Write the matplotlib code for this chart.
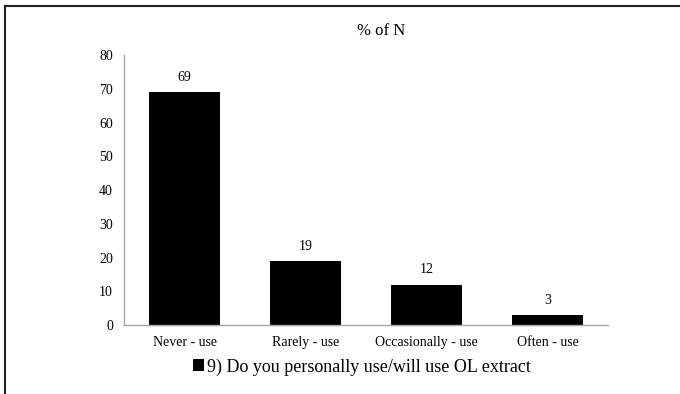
import matplotlib
matplotlib.use("Agg")
import matplotlib.pyplot as plt
from matplotlib.lines import Line2D

categories = ["Never - use", "Rarely - use", "Occasionally - use", "Often - use"]
values = [69, 19, 12, 3]
series_name = "9) Do you personally use/will use OL extract"
y_ticks = [0, 10, 20, 30, 40, 50, 60, 70, 80]

plt.rcParams["font.family"] = ["Liberation Serif", "DejaVu Serif"]

fig = plt.figure(figsize=(6.8, 3.94), dpi=100)
ax = fig.add_axes([0.1824, 0.1751, 0.894 - 0.1824, 0.8604 - 0.1751])

x = list(range(len(categories)))
bars = ax.bar(x, values, width=0.58, color="black", label=series_name)

for xi, v in zip(x, values):
    ax.annotate(str(v), (xi, v), xytext=(0, 6), textcoords="offset points",
                ha="center", va="bottom", fontsize=10)

ax.set_xlim(-0.5, len(categories) - 0.5)
ax.set_ylim(0, 80)
ax.set_yticks(y_ticks)
ax.set_xticks(x)
ax.set_xticklabels(categories, fontsize=10)
ax.tick_params(axis="y", labelsize=10, length=0, pad=8)
ax.tick_params(axis="x", length=0, pad=8)

for side in ("top", "right"):
    ax.spines[side].set_visible(False)
for side in ("left", "bottom"):
    ax.spines[side].set_color("#a6a6a6")
    ax.spines[side].set_linewidth(1.0)

fig.text(381 / 680, 1 - 31 / 394, "% of N", ha="center", va="center", fontsize=12)

fig.legend(handles=[bars], labels=[series_name], loc="center",
           bbox_to_anchor=(362 / 680, 1 - 367 / 394), frameon=False,
           fontsize=13, handlelength=0.6, handleheight=0.6, handletextpad=0.2)

# frame lines along the top and left edges
fig.add_artist(Line2D([5 / 680, 1.0], [1 - 6 / 394, 1 - 6 / 394],
                      transform=fig.transFigure, color="#222222", linewidth=1.5))
fig.add_artist(Line2D([5 / 680, 5 / 680], [0.0, 1 - 6 / 394],
                      transform=fig.transFigure, color="#222222", linewidth=1.5))

fig.savefig("out.png", dpi=100)
